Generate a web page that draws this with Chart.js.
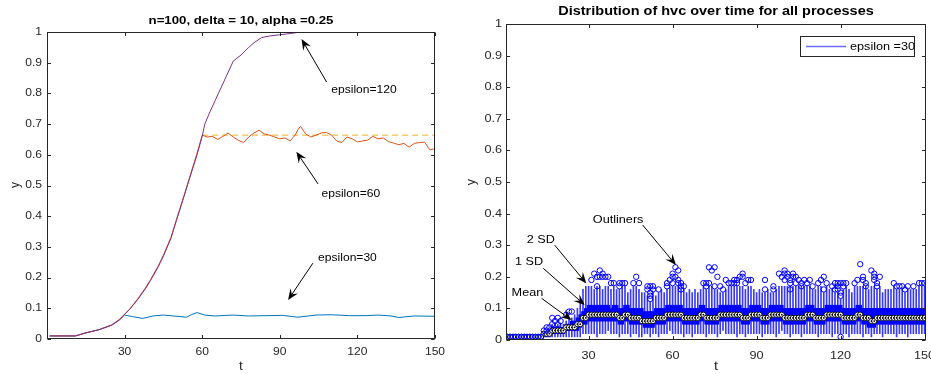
<!DOCTYPE html>
<html>
<head>
<meta charset="utf-8">
<script src="https://cdn.jsdelivr.net/npm/chart.js@4.4.0/dist/chart.umd.min.js"></script>
<style>
  body { margin: 0; background: #fff; }
  #wrap { position: relative; width: 931px; height: 374px; overflow: hidden; }
  canvas { position: absolute; top: 0; }
</style>
</head>
<body>
<div id="wrap">
  <canvas id="left" width="460" height="374" style="left:0"></canvas>
  <canvas id="right" width="471" height="374" style="left:460px"></canvas>
</div>
<script>
// ---- shared ticks ----
const xTicks = [30, 60, 90, 120, 150];
const yTicks = [0, 0.1, 0.2, 0.3, 0.4, 0.5, 0.6, 0.7, 0.8, 0.9, 1];

// ---- left chart: mean hvc per epsilon ----
const eps120T = [1, 11, 15, 20, 25, 28, 30, 32, 35, 38, 40, 43, 45, 48, 50, 53, 55, 58, 60, 61, 63, 66, 69, 72, 75, 78, 80, 83, 86, 90, 94, 98, 150];
const eps120Y = [0.01, 0.01, 0.02, 0.03, 0.045, 0.062, 0.08, 0.097, 0.128, 0.163, 0.19, 0.235, 0.27, 0.33, 0.385, 0.465, 0.52, 0.60, 0.66, 0.70, 0.74, 0.795, 0.85, 0.905, 0.925, 0.95, 0.965, 0.982, 0.987, 0.991, 0.995, 1.0, 1.0];

const eps60T = [1, 11, 15, 20, 25, 28, 30, 32, 35, 38, 40, 43, 45, 48, 50, 53, 55, 58, 60,
  62, 64, 66, 68, 70, 72, 74, 76, 78, 80, 82, 84, 86, 88, 90, 92, 94, 96, 97, 98, 100,
  102, 104, 106, 108, 110, 112, 114, 116, 118, 120, 122, 124, 126, 128, 130, 132, 134, 136, 138, 140,
  142, 144, 146, 148, 150];
const eps60Y = [0.01, 0.01, 0.02, 0.03, 0.046, 0.064, 0.081, 0.098, 0.13, 0.166, 0.193, 0.238, 0.273, 0.333, 0.388, 0.468, 0.523, 0.605, 0.664,
  0.658, 0.66, 0.65, 0.66, 0.671, 0.658, 0.647, 0.64, 0.658, 0.671, 0.68, 0.668, 0.664, 0.658, 0.652, 0.655, 0.645, 0.665, 0.682, 0.693, 0.668,
  0.658, 0.664, 0.671, 0.673, 0.664, 0.645, 0.64, 0.658, 0.652, 0.642, 0.645, 0.648, 0.66, 0.652, 0.655, 0.643, 0.638, 0.633, 0.637, 0.625,
  0.637, 0.64, 0.641, 0.616, 0.62];

const eps30T = [1, 11, 15, 20, 25, 28, 30, 33, 37, 41, 45, 49, 54, 56, 58, 61, 65, 72, 78, 85, 91, 97, 104, 110, 117, 123, 128, 133, 136, 142, 150];
const eps30Y = [0.01, 0.01, 0.02, 0.03, 0.045, 0.062, 0.078, 0.073, 0.067, 0.075, 0.078, 0.075, 0.071, 0.08, 0.086, 0.078, 0.075, 0.078, 0.075, 0.076, 0.077, 0.071, 0.078, 0.079, 0.076, 0.076, 0.078, 0.075, 0.07, 0.075, 0.074];

const refT = [60, 150];
const refY = [0.664, 0.664];

// ---- right chart: boxplot per time step (epsilon = 30) ----
const boxT = [];
for (let t = 1; t <= 150; t++) boxT.push(t);

const median = [
  0.01,0.01,0.01,0.01,0.01,0.01,0.01,0.01,0.01,0.01,
  0.01,0.01,0.01,0.02,0.02,0.02,0.03,0.03,0.03,0.03,
  0.03,0.04,0.04,0.04,0.04,0.05,0.05,0.07,0.07,0.08,
  0.08,0.08,0.08,0.08,0.08,0.08,0.08,0.08,0.08,0.08,
  0.07,0.07,0.08,0.08,0.07,0.07,0.07,0.07,0.06,0.06,
  0.06,0.06,0.06,0.07,0.07,0.07,0.07,0.08,0.08,0.08,
  0.08,0.08,0.08,0.07,0.07,0.07,0.07,0.07,0.07,0.08,
  0.08,0.07,0.07,0.07,0.07,0.07,0.08,0.08,0.08,0.08,
  0.08,0.08,0.08,0.08,0.07,0.07,0.07,0.08,0.08,0.08,
  0.08,0.07,0.07,0.07,0.08,0.08,0.08,0.08,0.08,0.07,
  0.07,0.07,0.07,0.07,0.07,0.07,0.07,0.08,0.08,0.08,
  0.07,0.07,0.07,0.07,0.08,0.08,0.08,0.08,0.08,0.08,
  0.07,0.07,0.07,0.07,0.07,0.08,0.08,0.07,0.07,0.07,
  0.06,0.06,0.07,0.07,0.07,0.07,0.07,0.07,0.07,0.07,
  0.07,0.07,0.07,0.07,0.07,0.07,0.07,0.07,0.07,0.07
];
const q1 = [
  0.01,0.01,0.01,0.01,0.01,0.01,0.01,0.01,0.01,0.01,
  0.01,0.01,0.01,0.01,0.01,0.01,0.02,0.02,0.02,0.02,
  0.02,0.03,0.03,0.03,0.03,0.03,0.04,0.05,0.05,0.06,
  0.06,0.06,0.06,0.06,0.06,0.06,0.06,0.06,0.06,0.06,
  0.05,0.05,0.06,0.06,0.05,0.05,0.05,0.05,0.05,0.04,
  0.04,0.04,0.04,0.05,0.05,0.05,0.05,0.06,0.06,0.06,
  0.06,0.06,0.06,0.05,0.05,0.05,0.05,0.05,0.05,0.06,
  0.06,0.05,0.05,0.05,0.05,0.05,0.06,0.06,0.06,0.06,
  0.06,0.06,0.06,0.06,0.05,0.05,0.05,0.06,0.06,0.06,
  0.06,0.05,0.05,0.05,0.06,0.06,0.06,0.06,0.06,0.05,
  0.05,0.05,0.05,0.05,0.05,0.05,0.05,0.06,0.06,0.06,
  0.05,0.05,0.05,0.05,0.06,0.06,0.06,0.06,0.06,0.06,
  0.05,0.05,0.05,0.05,0.05,0.06,0.06,0.05,0.05,0.04,
  0.04,0.04,0.05,0.05,0.05,0.05,0.05,0.05,0.05,0.05,
  0.05,0.05,0.05,0.05,0.05,0.05,0.05,0.05,0.05,0.05
];
const q3 = [
  0.01,0.01,0.01,0.01,0.01,0.01,0.01,0.01,0.01,0.01,
  0.01,0.01,0.01,0.02,0.02,0.03,0.04,0.04,0.04,0.04,
  0.04,0.05,0.05,0.06,0.06,0.07,0.08,0.09,0.10,0.11,
  0.11,0.11,0.11,0.11,0.11,0.11,0.11,0.10,0.11,0.11,
  0.10,0.10,0.11,0.11,0.10,0.10,0.10,0.10,0.10,0.09,
  0.09,0.09,0.09,0.10,0.10,0.10,0.10,0.11,0.11,0.11,
  0.11,0.11,0.11,0.10,0.10,0.10,0.10,0.10,0.10,0.11,
  0.11,0.10,0.10,0.10,0.10,0.10,0.11,0.11,0.11,0.11,
  0.11,0.11,0.11,0.11,0.10,0.10,0.10,0.11,0.11,0.11,
  0.11,0.10,0.10,0.10,0.11,0.11,0.11,0.11,0.11,0.10,
  0.10,0.10,0.10,0.10,0.10,0.10,0.10,0.11,0.11,0.11,
  0.10,0.10,0.10,0.10,0.11,0.11,0.11,0.11,0.11,0.11,
  0.10,0.10,0.10,0.10,0.10,0.11,0.11,0.10,0.10,0.10,
  0.10,0.10,0.10,0.10,0.10,0.10,0.10,0.10,0.10,0.10,
  0.10,0.10,0.10,0.10,0.10,0.10,0.10,0.10,0.10,0.10
];
const whiskHi = [
  0.01,0.01,0.01,0.01,0.01,0.01,0.01,0.01,0.01,0.01,
  0.01,0.01,0.01,0.02,0.03,0.03,0.05,0.05,0.05,0.05,
  0.05,0.06,0.07,0.07,0.08,0.10,0.12,0.16,0.17,0.17,
  0.17,0.16,0.17,0.17,0.16,0.17,0.17,0.16,0.17,0.16,
  0.16,0.17,0.17,0.15,0.16,0.17,0.17,0.16,0.15,0.15,
  0.14,0.12,0.15,0.14,0.15,0.16,0.15,0.16,0.17,0.17,
  0.17,0.17,0.16,0.16,0.15,0.16,0.15,0.16,0.15,0.16,
  0.17,0.16,0.17,0.17,0.16,0.16,0.15,0.15,0.16,0.17,
  0.17,0.17,0.17,0.17,0.17,0.16,0.17,0.17,0.16,0.15,
  0.16,0.15,0.15,0.16,0.15,0.15,0.16,0.17,0.17,0.17,
  0.17,0.17,0.17,0.17,0.17,0.17,0.17,0.17,0.17,0.16,
  0.16,0.17,0.17,0.15,0.17,0.16,0.16,0.15,0.15,0.13,
  0.16,0.17,0.16,0.15,0.17,0.17,0.17,0.17,0.17,0.16,
  0.17,0.17,0.16,0.17,0.15,0.16,0.16,0.16,0.17,0.16,
  0.16,0.16,0.15,0.16,0.16,0.16,0.16,0.17,0.17,0.17
];
const whiskLo = [
  0.01,0.01,0.01,0.01,0.01,0.01,0.01,0.01,0.01,0.01,
  0.01,0.01,0.01,0.01,0.01,0.01,0.01,0.01,0.01,0.01,
  0.01,0.01,0.01,0.01,0.01,0.01,0.01,0.02,0.02,0.02,
  0.02,0.02,0.01,0.02,0.02,0.02,0.03,0.02,0.02,0.02,
  0.01,0.02,0.02,0.02,0.01,0.02,0.02,0.01,0.01,0.02,
  0.02,0.01,0.02,0.02,0.01,0.02,0.02,0.02,0.03,0.02,
  0.02,0.02,0.02,0.01,0.02,0.02,0.01,0.02,0.02,0.02,
  0.02,0.01,0.02,0.02,0.02,0.01,0.02,0.03,0.02,0.02,
  0.02,0.02,0.01,0.02,0.02,0.01,0.02,0.02,0.02,0.02,
  0.02,0.01,0.02,0.02,0.02,0.02,0.01,0.02,0.03,0.02,
  0.02,0.01,0.02,0.02,0.02,0.01,0.02,0.02,0.02,0.02,
  0.02,0.01,0.02,0.02,0.02,0.02,0.01,0.02,0.02,0.02,
  0.02,0.02,0.01,0.02,0.02,0.02,0.02,0.01,0.02,0.02,
  0.01,0.02,0.02,0.02,0.01,0.02,0.02,0.02,0.02,0.01,
  0.02,0.02,0.02,0.01,0.02,0.02,0.02,0.02,0.02,0.02
];
const outT = [1,2,3,4,5,6,7,8,9,10,11,12,13,
  14,15,15,16,17,17,18,19,19,20,22,23,24,
  31,32,33,33,34,34,35,35,36,37,38,39,41,41,42,43,46,47,48,
  51,51,52,52,52,52,53,53,55,58,58,59,60,60,60,61,61,62,62,62,63,63,63,64,
  71,72,72,73,73,74,75,75,76,77,78,79,80,81,82,82,83,83,84,85,85,86,87,88,
  93,93,96,96,98,99,100,100,100,101,101,102,102,102,103,103,104,104,105,106,106,107,108,109,110,
  112,113,114,114,115,117,118,118,119,119,119,120,120,120,120,121,121,122,125,126,127,128,128,129,129,
  131,132,132,132,133,133,134,139,140,141,142,143,144,146,148,149,150];
const outV = [0.01,0.01,0.01,0.01,0.01,0.01,0.01,0.01,0.01,0.01,0.01,0.01,0.01,
  0.03,0.04,0.03,0.04,0.05,0.07,0.06,0.07,0.05,0.06,0.08,0.09,0.09,
  0.19,0.21,0.20,0.17,0.22,0.20,0.21,0.20,0.20,0.20,0.18,0.18,0.18,0.17,0.18,0.18,0.18,0.20,0.18,
  0.16,0.17,0.13,0.14,0.15,0.17,0.16,0.17,0.16,0.17,0.18,0.19,0.20,0.18,0.21,0.23,0.20,0.22,0.19,0.18,0.17,0.16,0.18,0.17,
  0.18,0.17,0.18,0.23,0.18,0.22,0.23,0.17,0.20,0.17,0.16,0.19,0.18,0.18,0.18,0.19,0.19,0.18,0.20,0.20,0.21,0.18,0.19,0.19,
  0.19,0.16,0.16,0.17,0.21,0.20,0.22,0.21,0.19,0.20,0.21,0.18,0.16,0.19,0.21,0.20,0.18,0.20,0.19,0.18,0.17,0.19,0.18,0.19,0.17,
  0.18,0.19,0.20,0.16,0.18,0.17,0.18,0.16,0.17,0.18,0.16,0.18,0.15,0.14,0.01,0.18,0.17,0.18,0.18,0.19,0.24,0.20,0.19,0.18,0.17,
  0.22,0.20,0.19,0.21,0.18,0.17,0.20,0.18,0.17,0.17,0.17,0.16,0.17,0.17,0.18,0.18,0.18];

// annotation text and arrows, in data units
const leftNotes = [
  { text: "epsilon=120", tx: 109.9, ty: 0.811, from: [108.1, 0.837], to: [98.4, 0.977] },
  { text: "epsilon=60", tx: 106.1, ty: 0.472, from: [104.8, 0.505], to: [96.4, 0.61] },
  { text: "epsilon=30", tx: 104.8, ty: 0.264, from: [102.8, 0.247], to: [93.2, 0.127] }
];
const rightNotes = [
  { text: "Outliners", tx: 31.5, ty: 0.38, from: [49.3, 0.364], to: [61.2, 0.237] },
  { text: "2 SD", tx: 7.9, ty: 0.316, from: [17.9, 0.30], to: [29.2, 0.179] },
  { text: "1 SD", tx: 3.7, ty: 0.246, from: [13.8, 0.227], to: [28.6, 0.111] },
  { text: "Mean", tx: 2.5, ty: 0.148, from: [13.2, 0.132], to: [23.9, 0.063] }
];

const FONT = "'Liberation Sans', Arial, sans-serif";
const STRETCH = 1.15;
const AXIS = "#262626";

function pts(xs, ys) {
  return xs.map((x, i) => ({ x: x, y: ys[i] }));
}

function drawText(ctx, str, x, y, font, align, stretch) {
  ctx.save();
  ctx.font = font;
  ctx.textBaseline = "middle";
  ctx.textAlign = "left";
  const w = ctx.measureText(str).width * stretch;
  let x0 = x;
  if (align === "center") x0 = x - w / 2;
  if (align === "right") x0 = x - w;
  ctx.translate(x0, y);
  ctx.scale(stretch, 1);
  ctx.fillText(str, 0, 0);
  ctx.restore();
}

function drawArrow(ctx, x1, y1, x2, y2) {
  const ang = Math.atan2(y2 - y1, x2 - x1);
  const L = 11, W = 4.5;
  ctx.beginPath();
  ctx.moveTo(x1, y1);
  ctx.lineTo(x2 - Math.cos(ang) * L * 0.6, y2 - Math.sin(ang) * L * 0.6);
  ctx.stroke();
  ctx.save();
  ctx.translate(x2, y2);
  ctx.rotate(ang);
  ctx.beginPath();
  ctx.moveTo(0, 0);
  ctx.lineTo(-L, -W);
  ctx.lineTo(-L * 0.62, 0);
  ctx.lineTo(-L, W);
  ctx.closePath();
  ctx.fill();
  ctx.restore();
}

// MATLAB-ish axes: full box, inward ticks, labels, title, arrows
function axesPlugin(cfg) {
  return {
    id: "matlabAxes",
    afterDatasetsDraw(chart) {
      const ctx = chart.ctx, a = chart.chartArea;
      const xs = chart.scales.x, ys = chart.scales.y;
      const L = Math.round(a.left) + 0.5, R = Math.round(a.right) - 0.5;
      const T = Math.round(a.top) + 0.5, B = Math.round(a.bottom) - 0.5;
      ctx.save();
      ctx.strokeStyle = AXIS;
      ctx.fillStyle = AXIS;
      ctx.lineWidth = 1;
      ctx.strokeRect(L, T, R - L, B - T);
      const tl = 3.5;
      ctx.beginPath();
      xTicks.forEach(v => {
        const px = Math.round(xs.getPixelForValue(v)) + 0.5;
        ctx.moveTo(px, B); ctx.lineTo(px, B - tl);
        ctx.moveTo(px, T); ctx.lineTo(px, T + tl);
      });
      yTicks.forEach(v => {
        const py = Math.round(ys.getPixelForValue(v)) + 0.5;
        ctx.moveTo(L, py); ctx.lineTo(L + tl, py);
        ctx.moveTo(R, py); ctx.lineTo(R - tl, py);
      });
      ctx.stroke();

      const tf = cfg.tickSize + "px " + FONT;
      xTicks.forEach(v => {
        drawText(ctx, String(v), xs.getPixelForValue(v), a.bottom + cfg.xLabelGap, tf, "center", STRETCH);
      });
      yTicks.forEach(v => {
        drawText(ctx, String(Math.round(v * 10) / 10), a.left - cfg.yLabelGap, ys.getPixelForValue(v), tf, "right", STRETCH);
      });

      // axis titles
      drawText(ctx, "t", (a.left + a.right) / 2, cfg.tY, (cfg.tickSize + 1.5) + "px " + FONT, "center", STRETCH);
      ctx.save();
      ctx.translate(cfg.yX, cfg.yY);
      ctx.rotate(-Math.PI / 2);
      ctx.font = (cfg.tickSize + 1.5) + "px " + FONT;
      ctx.textAlign = "center";
      ctx.textBaseline = "middle";
      ctx.fillText("y", 0, 0);
      ctx.restore();

      // title
      ctx.fillStyle = "#000";
      drawText(ctx, cfg.title, (a.left + a.right) / 2, cfg.titleY, "bold " + cfg.titleSize + "px " + FONT, "center", STRETCH);

      // annotations
      ctx.strokeStyle = "#000";
      ctx.fillStyle = "#000";
      cfg.notes.forEach(n => {
        drawText(ctx, n.text, xs.getPixelForValue(n.tx), ys.getPixelForValue(n.ty), cfg.noteSize + "px " + FONT, "left", STRETCH);
        drawArrow(ctx,
          xs.getPixelForValue(n.from[0]), ys.getPixelForValue(n.from[1]),
          xs.getPixelForValue(n.to[0]), ys.getPixelForValue(n.to[1]));
      });

      // legend
      if (cfg.legend) {
        const lx = a.right - 12 - 114, ly = a.top + 12;
        ctx.fillStyle = "#fff";
        ctx.fillRect(lx, ly, 114, 20);
        ctx.strokeStyle = AXIS;
        ctx.strokeRect(Math.round(lx) + 0.5, Math.round(ly) + 0.5, 114, 20);
        ctx.strokeStyle = "#6b6bff";
        ctx.lineWidth = 1.5;
        ctx.beginPath();
        ctx.moveTo(lx + 6, ly + 10.5);
        ctx.lineTo(lx + 46, ly + 10.5);
        ctx.stroke();
        ctx.fillStyle = "#000";
        drawText(ctx, cfg.legend, lx + 50, ly + 10.5, cfg.noteSize + "px " + FONT, "left", STRETCH);
      }
      ctx.restore();
    }
  };
}

function scales(xmin, xmax, yWidth, xHeight) {
  return {
    x: {
      type: "linear", min: xmin, max: xmax, offset: false,
      grid: { display: false, drawTicks: false },
      border: { display: false },
      ticks: { display: false },
      afterBuildTicks: s => { s.ticks = xTicks.map(v => ({ value: v })); },
      afterFit: s => { s.height = xHeight; s.paddingLeft = 0; s.paddingRight = 0; }
    },
    y: {
      type: "linear", min: 0, max: 1,
      grid: { display: false, drawTicks: false },
      border: { display: false },
      ticks: { display: false },
      afterBuildTicks: s => { s.ticks = yTicks.map(v => ({ value: v })); },
      afterFit: s => { s.width = yWidth; s.paddingTop = 0; s.paddingBottom = 0; }
    }
  };
}

const common = {
  responsive: false,
  animation: false,
  devicePixelRatio: 1,
  events: [],
  plugins: { legend: { display: false }, tooltip: { enabled: false }, title: { display: false } }
};

// left chart
new Chart(document.getElementById("left"), {
  type: "line",
  data: {
    datasets: [
      { data: pts(eps120T, eps120Y), borderColor: "#7E2F8E", borderWidth: 1, pointRadius: 0, tension: 0 },
      { data: pts(eps60T, eps60Y), borderColor: "#D95319", borderWidth: 1, pointRadius: 0, tension: 0 },
      { data: pts(refT, refY), borderColor: "#EDB120", borderWidth: 1, borderDash: [6, 4], pointRadius: 0 },
      { data: pts(eps30T, eps30Y), borderColor: "#0072BD", borderWidth: 1, pointRadius: 0, tension: 0 }
    ]
  },
  options: Object.assign({}, common, {
    layout: { padding: { top: 32, right: 25, bottom: 0, left: 0 } },
    scales: scales(0, 150, 47, 35)
  }),
  plugins: [axesPlugin({
    title: "n=100, delta = 10, alpha =0.25", titleY: 21, titleSize: 11.5,
    tickSize: 10.5, xLabelGap: 13, yLabelGap: 5, tY: 367, yX: 16, yY: 185,
    noteSize: 10.5, notes: leftNotes
  })]
});

// right chart
new Chart(document.getElementById("right"), {
  type: "bar",
  data: {
    datasets: [
      { type: "scatter", data: pts(outT, outV), pointStyle: "circle", pointRadius: 2.7,
        borderColor: "#0000ff", backgroundColor: "rgba(0,0,0,0)",
        pointBorderColor: "#0000ff", pointBackgroundColor: "rgba(0,0,0,0)", pointBorderWidth: 1 },
      { type: "scatter", data: pts(boxT, median), pointRadius: 0.9,
        borderColor: "#000", backgroundColor: "#000",
        pointBackgroundColor: "#000", pointBorderColor: "#000", pointBorderWidth: 0 },
      { type: "scatter", data: pts(boxT, median), pointRadius: 2.6,
        borderColor: "#000", backgroundColor: "#fff",
        pointBackgroundColor: "#fff", pointBorderColor: "#000", pointBorderWidth: 0.9 },
      { type: "bar", data: boxT.map((t, i) => ({ x: t, y: [q1[i], q3[i]] })), backgroundColor: "#0000ff",
        barThickness: 3, grouped: false },
      { type: "bar", data: boxT.map((t, i) => ({ x: t, y: [whiskLo[i], whiskHi[i]] })), backgroundColor: "#3a3aff",
        barThickness: 1, grouped: false }
    ]
  },
  options: Object.assign({}, common, {
    layout: { padding: { top: 24, right: 3, bottom: 0, left: 0 } },
    scales: scales(0.5, 150.5, 46, 34)
  }),
  plugins: [axesPlugin({
    title: "Distribution of hvc over time for all processes", titleY: 12, titleSize: 12.6,
    tickSize: 11, xLabelGap: 16, yLabelGap: 4, tY: 367, yX: 12, yY: 182,
    noteSize: 11, notes: rightNotes, legend: "epsilon =30"
  })]
});
</script>
</body>
</html>
